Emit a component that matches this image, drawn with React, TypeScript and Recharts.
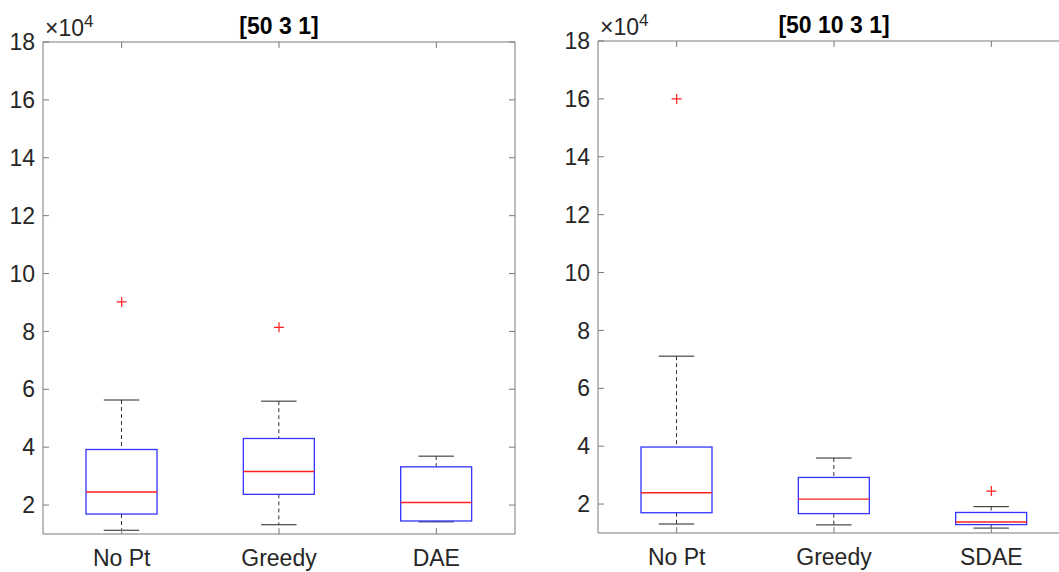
import { ComposedChart, Bar, Scatter, XAxis, YAxis } from 'recharts'

// left panel: [50 3 1]
const leftNames = ['No Pt', 'Greedy', 'DAE']
const leftMin = [11300, 13200, 14200]
const leftQ1 = [16900, 23700, 14500]
const leftMedian = [24500, 31600, 20900]
const leftQ3 = [39200, 43000, 33200]
const leftMax = [56300, 55900, 36900]
const leftOutliers = [
  { name: 'No Pt', value: 90200 },
  { name: 'Greedy', value: 81400 },
]

// right panel: [50 10 3 1]
const rightNames = ['No Pt', 'Greedy', 'SDAE']
const rightMin = [13100, 12800, 11700]
const rightQ1 = [17000, 16700, 12900]
const rightMedian = [23900, 21700, 13800]
const rightQ3 = [39700, 29200, 17100]
const rightMax = [71100, 35900, 19100]
const rightOutliers = [
  { name: 'No Pt', value: 160000 },
  { name: 'SDAE', value: 24500 },
]

const yTicks = [20000, 40000, 60000, 80000, 100000, 120000, 140000, 160000, 180000]

const FONT = '"Liberation Sans", Arial, Helvetica, sans-serif'
const AXIS = '#7a7a7a'
const TEXT = '#262626'

const buildRows = (names: string[], mn: number[], q1: number[], med: number[], q3: number[], mx: number[]) =>
  names.map((name, i) => ({ name, min: mn[i], q1: q1[i], median: med[i], q3: q3[i], max: mx[i] }))

// box drawn from the bar's own pixel range (min..max), positions interpolated on it
const BoxShape = (props: any) => {
  const { x, y, width, height, payload } = props
  if (!payload) return null
  const top = Math.min(y, y + height)
  const bottom = Math.max(y, y + height)
  const span = payload.max - payload.min
  const toY = (v: number) => top + ((payload.max - v) / span) * (bottom - top)
  const cx = x + width / 2
  const cap = width / 4
  const yQ1 = toY(payload.q1)
  const yQ3 = toY(payload.q3)
  const yMed = toY(payload.median)
  return (
    <g>
      <line x1={cx} x2={cx} y1={top} y2={yQ3} stroke="#333" strokeDasharray="4 3" />
      <line x1={cx} x2={cx} y1={yQ1} y2={bottom} stroke="#333" strokeDasharray="4 3" />
      <line x1={cx - cap} x2={cx + cap} y1={top} y2={top} stroke="#222" />
      <line x1={cx - cap} x2={cx + cap} y1={bottom} y2={bottom} stroke="#222" />
      <rect x={x} y={yQ3} width={width} height={yQ1 - yQ3} fill="none" stroke="#3333ff" strokeWidth={1.3} />
      <line x1={x} x2={x + width} y1={yMed} y2={yMed} stroke="#ff2020" strokeWidth={1.4} />
    </g>
  )
}

const Plus = (props: any) => {
  const { cx, cy } = props
  if (cx == null || cy == null) return null
  return <path d={`M${cx - 5},${cy}H${cx + 5}M${cx},${cy - 5}V${cy + 5}`} stroke="#ff2020" strokeWidth={1.2} fill="none" />
}

const NoLabel = () => <g />

function BoxPanel({ rows, outliers }: { rows: any[]; outliers: any[] }) {
  return (
    <ComposedChart width={530} height={572} data={rows} margin={{ top: 41, right: 14, bottom: 0, left: 0 }}>
      <XAxis
        dataKey="name"
        allowDuplicatedCategory={false}
        height={38}
        stroke={AXIS}
        tickSize={-6}
        tickMargin={22}
        tick={{ fill: TEXT, fontSize: 23, fontFamily: FONT }}
        interval={0}
      />
      <XAxis
        xAxisId="top"
        dataKey="name"
        orientation="top"
        allowDuplicatedCategory={false}
        height={1}
        stroke={AXIS}
        tickSize={-6}
        tick={NoLabel}
        interval={0}
      />
      <YAxis
        type="number"
        domain={[10000, 180000]}
        ticks={yTicks}
        interval={0}
        width={43}
        stroke={AXIS}
        tickSize={-6}
        tickMargin={14}
        tickFormatter={(v: number) => String(v / 10000)}
        tick={{ fill: TEXT, fontSize: 23, fontFamily: FONT }}
        allowDataOverflow
      />
      <YAxis
        yAxisId="right"
        orientation="right"
        type="number"
        domain={[10000, 180000]}
        ticks={yTicks}
        interval={0}
        width={1}
        stroke={AXIS}
        tickSize={-6}
        tick={NoLabel}
        allowDataOverflow
      />
      <Bar
        xAxisId="top"
        yAxisId="right"
        dataKey="q3"
        fill="transparent"
        legendType="none"
        isAnimationActive={false}
      />
      <Bar
        dataKey={(d: any) => [d.min, d.max]}
        barSize={71}
        shape={BoxShape}
        isAnimationActive={false}
      />
      <Scatter data={outliers} dataKey="value" shape={Plus} isAnimationActive={false} />
    </ComposedChart>
  )
}

export default function App() {
  const leftRows = buildRows(leftNames, leftMin, leftQ1, leftMedian, leftQ3, leftMax)
  const rightRows = buildRows(rightNames, rightMin, rightQ1, rightMedian, rightQ3, rightMax)
  return (
    <div
      style={{
        position: 'absolute',
        left: 0,
        top: 0,
        width: 1059,
        height: 572,
        overflow: 'hidden',
        background: '#fff',
        fontFamily: FONT,
      }}
    >
      <div style={{ position: 'absolute', left: 0, top: 0 }}>
        <BoxPanel rows={leftRows} outliers={leftOutliers} />
      </div>
      <div style={{ position: 'absolute', left: 555, top: -1 }}>
        <BoxPanel rows={rightRows} outliers={rightOutliers} />
      </div>
      <svg width={1059} height={572} style={{ position: 'absolute', left: 0, top: 0, pointerEvents: 'none' }}>
        <text x={279} y={34} textAnchor="middle" fontWeight="bold" fontSize={23} fill="#000" fontFamily={FONT}>
          [50 3 1]
        </text>
        <text x={45} y={36} fontSize={23} fill={TEXT} fontFamily={FONT}>
          ×10<tspan fontSize={17} dy={-9}>4</tspan>
        </text>
        <text x={834} y={33} textAnchor="middle" fontWeight="bold" fontSize={23} fill="#000" fontFamily={FONT}>
          [50 10 3 1]
        </text>
        <text x={600} y={35} fontSize={23} fill={TEXT} fontFamily={FONT}>
          ×10<tspan fontSize={17} dy={-9}>4</tspan>
        </text>
      </svg>
    </div>
  )
}
